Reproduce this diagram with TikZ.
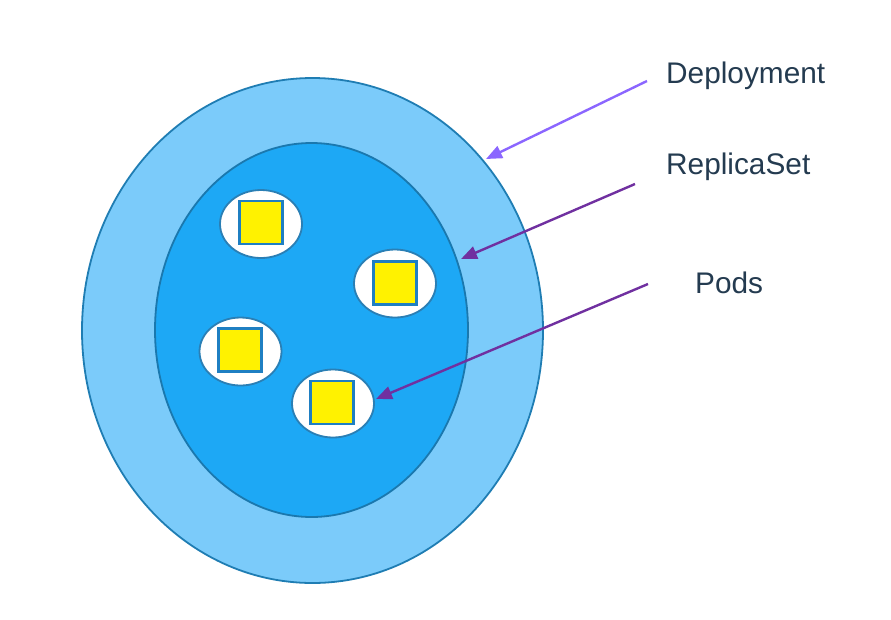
\documentclass[tikz,border=0pt]{standalone}
\usepackage{fontspec}
\setmainfont{Liberation Sans}
\usetikzlibrary{shapes.geometric,arrows.meta}
\definecolor{outerfill}{HTML}{7BCBFA}
\definecolor{outerline}{HTML}{1F7DB3}
\definecolor{innerfill}{HTML}{1DA8F5}
\definecolor{innerline}{HTML}{1A78AE}
\definecolor{podline}{HTML}{2A7FB5}
\definecolor{sqline}{HTML}{1F7FC2}
\definecolor{arrowA}{HTML}{8B66FF}
\definecolor{arrowB}{HTML}{7030A0}
\definecolor{labeltext}{HTML}{243B50}
\tikzset{
  ring/.style={ellipse, draw, line width=1.8pt, inner sep=0pt},
  podshape/.style={ellipse, draw=podline, fill=white, line width=1.8pt, minimum width=82pt, minimum height=68pt, inner sep=0pt},
  podsq/.style={rectangle, draw=sqline, fill=yellow, line width=2.8pt, minimum size=43pt, inner sep=0pt},
  lbl/.style={anchor=base west, text=labeltext, inner sep=0pt, font=\fontsize{29.8}{34}\selectfont},
  pointer/.style={line width=2.4pt, -{Triangle[length=16pt,width=13pt]}}
}
\begin{document}
\begin{tikzpicture}[x=1pt,y=-1pt]
\useasboundingbox (0,0) rectangle (891,619);
\node[ring, draw=outerline, fill=outerfill, minimum width=461pt, minimum height=505pt] (outer) at (312.5,330.5) {};
\node[ring, draw=innerline, fill=innerfill, minimum width=313pt, minimum height=374pt] (inner) at (311.5,330) {};
\node[podshape] (pod1) at (261,224) {};
\node[podshape] (pod2) at (395,283.5) {};
\node[podshape] (pod3) at (240.5,351.5) {};
\node[podshape] (pod4) at (333,403.5) {};
\node[podsq] (sq1) at (261,222.5) {};
\node[podsq] (sq2) at (395,283) {};
\node[podsq] (sq3) at (240,350) {};
\node[podsq] (sq4) at (332,402.5) {};
\node[lbl] (ldep) at (666,83) {Deployment};
\node[lbl] (lrs) at (666,174) {ReplicaSet};
\node[lbl] (lpods) at (695,293) {Pods};
\coordinate (sdep) at (647,81);
\coordinate (tdep) at (486,159);
\coordinate (srs) at (635,184);
\coordinate (trs) at (461,259);
\coordinate (spods) at (648,284);
\coordinate (tpods) at (376,399);
\draw[pointer, arrowA] (sdep) -- (tdep);
\draw[pointer, arrowB] (srs) -- (trs);
\draw[pointer, arrowB] (spods) -- (tpods);
\end{tikzpicture}
\end{document}
